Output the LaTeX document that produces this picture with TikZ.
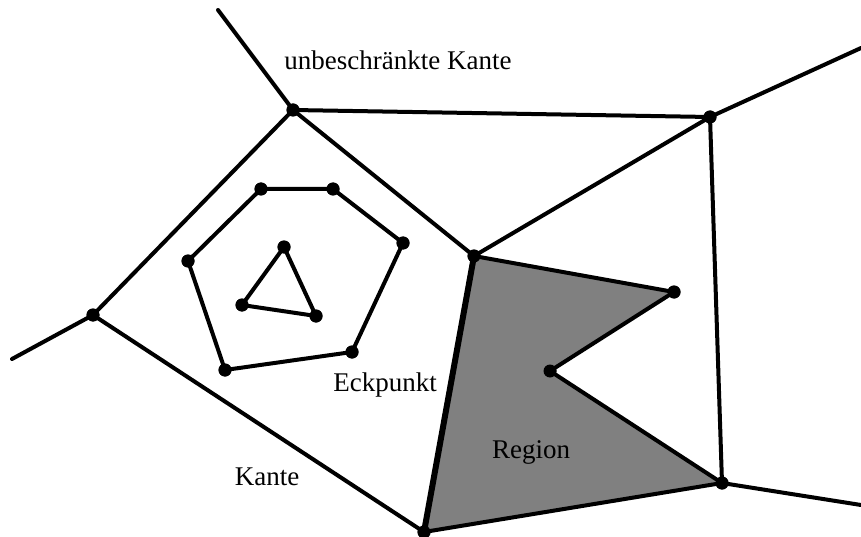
\documentclass[tikz,border=0pt]{standalone}
\usepackage{fontspec}
\setmainfont{Liberation Serif}
\begin{document}
\begin{tikzpicture}[x=1pt,y=-1pt,
  edge/.style={line width=4pt,line join=round,line cap=round},
  thick edge/.style={line width=6pt,line join=round,line cap=round},
  vtx/.style={circle,fill=black,inner sep=0pt,minimum size=13pt},
  lbl/.style={anchor=base,inner sep=0pt,font=\fontsize{27}{30}\selectfont}]
\useasboundingbox (0,0) rectangle (861,537);
\fill[white] (0,0) rectangle (861,537);
% vertices
\coordinate (T) at (218,10);
\coordinate (R1) at (861,48);
\coordinate (R2) at (861,505);
\coordinate (L) at (12,359);
\node[vtx] (A) at (293,110) {};
\node[vtx] (B) at (710,117) {};
\node[vtx] (C) at (722,483) {};
\node[vtx] (D) at (474,256) {};
\node[vtx] (E) at (424,532) {};
\node[vtx] (F) at (93,315) {};
\node[vtx] (G) at (674,292) {};
\node[vtx] (H) at (550,371) {};
% region fill
\fill[gray] (D.center) -- (G.center) -- (H.center) -- (C.center) -- (E.center) -- cycle;
% hexagon and triangle
\node[vtx] (h1) at (261,189) {};
\node[vtx] (h2) at (333,189) {};
\node[vtx] (h3) at (403,243) {};
\node[vtx] (h4) at (352,352) {};
\node[vtx] (h5) at (225,370) {};
\node[vtx] (h6) at (188,261) {};
\node[vtx] (t1) at (284,247) {};
\node[vtx] (t2) at (242,305) {};
\node[vtx] (t3) at (316,316) {};
% edges
\draw[edge] (T) -- (A.center);
\draw[edge] (A.center) -- (B.center);
\draw[edge] (B.center) -- (R1);
\draw[edge] (B.center) -- (C.center);
\draw[edge] (C.center) -- (R2);
\draw[edge] (A.center) -- (D.center);
\draw[edge] (D.center) -- (B.center);
\draw[thick edge] (D.center) -- (E.center);
\draw[edge] (E.center) -- (C.center);
\draw[edge] (A.center) -- (F.center);
\draw[edge] (F.center) -- (L);
\draw[edge] (F.center) -- (E.center);
\draw[edge] (D.center) -- (G.center) -- (H.center) -- (C.center);
\draw[edge] (h1.center) -- (h2.center) -- (h3.center) -- (h4.center) -- (h5.center) -- (h6.center) -- cycle;
\draw[edge] (t1.center) -- (t2.center) -- (t3.center) -- cycle;
% redraw dots on top
\foreach \n in {A,B,C,D,E,F,G,H,h1,h2,h3,h4,h5,h6,t1,t2,t3}
  \fill (\n) circle (6.5pt);
% labels
\node[lbl] (l1) at (398,70) {unbeschränkte Kante};
\node[lbl] (l2) at (385,391) {Eckpunkt};
\node[lbl] (l3) at (267,485) {Kante};
\node[lbl] (l4) at (531,458) {Region};
\end{tikzpicture}
\end{document}
